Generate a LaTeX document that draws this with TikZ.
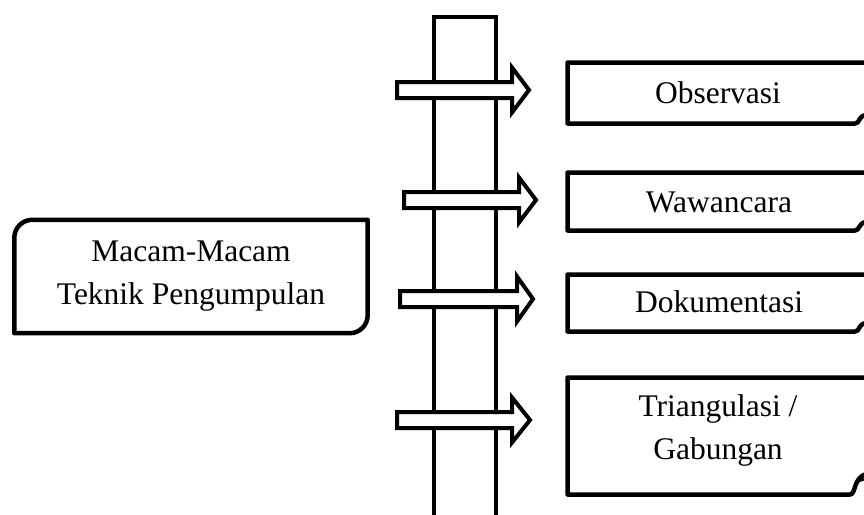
\documentclass[tikz,border=0pt]{standalone}
\usepackage{fontspec}
\setmainfont{Liberation Serif}
\begin{document}
\begin{tikzpicture}[x=1pt,y=-1pt,
  outline/.style={draw=black, line width=4.5pt, line join=round},
  post/.style={draw=black, line width=4pt, fill=white},
  blockarrow/.style={draw=black, fill=white, line width=4pt, line join=miter},
  caption/.style={font=\fontsize{31.5}{43}\selectfont, align=center, inner sep=0pt}]
\useasboundingbox (0,0) rectangle (864,514);
\clip (0,0) rectangle (864,514);

% vertical post (runs off the bottom edge)
\node[post, minimum width=62pt, minimum height=560pt, anchor=north, inner sep=0pt] (post) at (465,15) {};

% topic box with two rounded corners
\node[caption, minimum width=353pt, minimum height=113pt] (topic) at (191,276.5)
  {Macam-Macam\\Teknik Pengumpulan};
\draw[outline] (topic.south west) [rounded corners=18pt] -- (topic.north west)
  [sharp corners] -- (topic.north east) [rounded corners=18pt] -- (topic.south east)
  [sharp corners] -- cycle;

% block arrows across the post
\foreach \l/\y/\h/\t in {397/90/512/529, 404/200/519/536, 400/299/517/533, 397/420/512/530}
  \draw[blockarrow] (\l,\y-8) -- (\h,\y-8) -- (\h,\y-22.5) -- (\t,\y)
    -- (\h,\y+22.5) -- (\h,\y+8) -- (\l,\y+8) -- cycle;

% scroll frames on the right (right side runs off the page)
\draw[outline] (880,62.5) -- (567.5,62.5) -- (567.5,123.5) -- (855,123.5)
  .. controls (860,123.5) and (858,116) .. (866,115);
\draw[outline] (880,172.5) -- (567.5,172.5) -- (567.5,230.5) -- (855,230.5)
  .. controls (860,230.5) and (858,223) .. (866,222);
\draw[outline] (880,274.5) -- (567.5,274.5) -- (567.5,331.5) -- (855,331.5)
  .. controls (860,331.5) and (858,324) .. (866,323);
\draw[outline] (880,377.5) -- (567.5,377.5) -- (567.5,494.5) -- (850,494.5)
  .. controls (856,494.5) and (853,478) .. (866,474);
\draw[line width=2.5pt] (855,488) .. controls (856,481) and (860,480) .. (866,479);

\node[caption] (obs) at (718,93) {Observasi};
\node[caption] (waw) at (719,202) {Wawancara};
\node[caption] (dok) at (719,302) {Dokumentasi};
\node[caption] (tri) at (718,430) {Triangulasi /\\Gabungan};
\end{tikzpicture}
\end{document}
